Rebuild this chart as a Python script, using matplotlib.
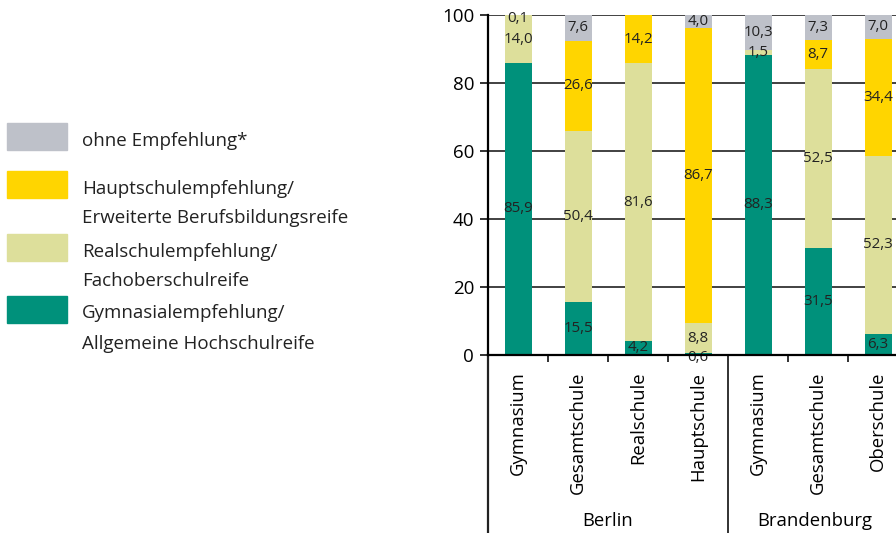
import matplotlib.pyplot as plt
from matplotlib.patches import Rectangle

plt.rcParams['font.family'] = ['Open Sans', 'DejaVu Sans']

schools = ['Gymnasium', 'Gesamtschule', 'Realschule', 'Hauptschule',
           'Gymnasium', 'Gesamtschule', 'Oberschule']
groups = ['Berlin', 'Brandenburg']

gymnasial = [85.9, 15.5, 4.2, 0.6, 88.3, 31.5, 6.3]
realschul = [14.0, 50.4, 81.6, 8.8, 1.5, 52.5, 52.3]
hauptschul = [0.0, 26.6, 14.2, 86.7, 0.0, 8.7, 34.4]
ohne = [0.1, 7.6, 0.0, 4.0, 10.3, 7.3, 7.0]

legend_labels = [['ohne Empfehlung*'],
                 ['Hauptschulempfehlung/', 'Erweiterte Berufsbildungsreife'],
                 ['Realschulempfehlung/', 'Fachoberschulreife'],
                 ['Gymnasialempfehlung/', 'Allgemeine Hochschulreife']]

c_gym = '#00917b'
c_real = '#dddf9b'
c_haupt = '#ffd500'
c_ohne = '#bec1c9'

W, H = 896, 533
fig = plt.figure(figsize=(W / 100, H / 100), dpi=100)
ax = fig.add_axes([488 / W, 1 - 355 / H, 1 - 488 / W, 340 / H])

x = list(range(len(schools)))
series = [(gymnasial, c_gym), (realschul, c_real), (hauptschul, c_haupt), (ohne, c_ohne)]
bottom = [0.0] * len(x)
for vals, col in series:
    ax.bar(x, vals, width=0.45, bottom=bottom, color=col, zorder=3)
    for i, v in enumerate(vals):
        if v > 0:
            yc = bottom[i] + v / 2
            if v < 0.5 and bottom[i] > 99:
                yc = 99.0
            if v < 1 and bottom[i] == 0:
                yc = -0.6
            ax.text(i, yc, f'{v:.1f}'.replace('.', ','), ha='center', va='center',
                    fontsize=10.8, color='#222222', zorder=4, clip_on=False)
    bottom = [b + v for b, v in zip(bottom, vals)]

ax.set_xlim(-0.5, -0.5 + (W - 488) / 60)
ax.set_ylim(0, 100)
ax.set_yticks([0, 20, 40, 60, 80, 100])
ax.tick_params(axis='y', length=6, width=1.3, labelsize=13.5, color='#222222', pad=4)
for yv in [20, 40, 60, 80, 100]:
    ax.axhline(yv, color='#333333', lw=1.3, zorder=1)

for s in ['top', 'right']:
    ax.spines[s].set_visible(False)
ax.spines['left'].set_linewidth(1.6)
ax.spines['bottom'].set_linewidth(1.6)
ax.spines['bottom'].set_zorder(5)

ax.set_xticks(x)
ax.set_xticklabels(schools, rotation=90, fontsize=13.3, va='top')
ax.tick_params(axis='x', length=0, pad=12)
ax.set_xticks([0.5, 1.5, 2.5, 4.5, 5.5], minor=True)
ax.tick_params(axis='x', which='minor', length=5, width=1.3, color='#222222')

ax.plot([-0.5, -0.5], [0, -60], color='#222222', lw=1.6, clip_on=False)
ax.plot([3.5, 3.5], [0, -60], color='#222222', lw=1.3, clip_on=False)

fig.text(608 / W, 1 - 521 / H, groups[0], ha='center', va='center', fontsize=13.3)
fig.text(815 / W, 1 - 521 / H, groups[1], ha='center', va='center', fontsize=13.3)

# legend
patch_y = [123, 171, 234, 296]
baselines = [[146], [194, 223], [257, 286], [318, 349]]
legend_cols = [c_ohne, c_haupt, c_real, c_gym]
for py, col, lines, bl in zip(patch_y, legend_cols, legend_labels, baselines):
    fig.patches.append(Rectangle((7 / W, 1 - (py + 27) / H), 60 / W, 27 / H,
                                 transform=fig.transFigure, color=col))
    for line, b in zip(lines, bl):
        fig.text(82 / W, 1 - b / H, line, ha='left', va='baseline',
                 fontsize=13.5, color='#222222')

fig.savefig('out.png', dpi=100)
